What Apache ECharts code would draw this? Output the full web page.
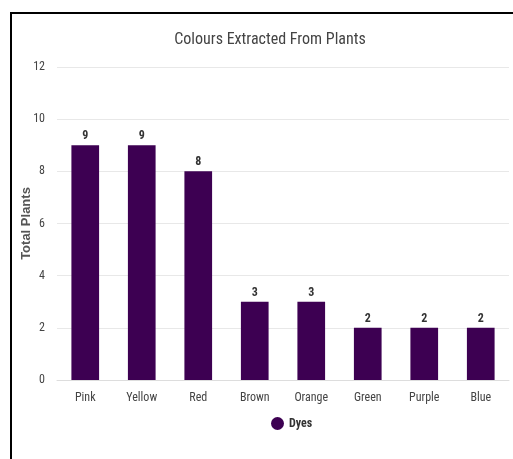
<!DOCTYPE html>
<html>
<head>
<meta charset="utf-8">
<script src="https://cdn.jsdelivr.net/npm/echarts@6/dist/echarts.min.js"></script>
<style>
  html, body { margin: 0; padding: 0; background: #fff; }
  #view { width: 513px; height: 459px; }
</style>
</head>
<body>
<div id="view"></div>
<script>
let categories = ["Pink", "Yellow", "Red", "Brown", "Orange", "Green", "Purple", "Blue"];
let dyeValues = [9, 9, 8, 3, 3, 2, 2, 2];
let seriesName = "Dyes";

let narrow = "'Roboto Condensed', 'Roboto', sans-serif";

let myChart = echarts.init(document.getElementById("view"));
let option = {
  backgroundColor: "#fff",
  animation: false,
  title: {
    text: "Colours Extracted From Plants",
    left: 265,
    textAlign: "center",
    top: 27,
    textStyle: { fontFamily: narrow, fontSize: 16, fontWeight: "normal", color: "#444" },
  },
  legend: {
    data: [seriesName],
    left: 266,
    bottom: 24,
    textAlign: "center",
    icon: "circle",
    itemWidth: 13,
    itemHeight: 13,
    itemGap: 6,
    textStyle: { fontFamily: narrow, fontSize: 12, fontWeight: "bold", color: "#333" },
  },
  grid: { left: 57, right: 4, top: 67, bottom: 79 },
  graphic: [
    { type: "line", shape: { x1: 10, y1: 13, x2: 513, y2: 13 }, style: { stroke: "#000", lineWidth: 2 } },
    { type: "line", shape: { x1: 11, y1: 13, x2: 11, y2: 459 }, style: { stroke: "#000", lineWidth: 2 } },
  ],
  xAxis: {
    type: "category",
    data: categories,
    axisLine: { lineStyle: { color: "#ddd" } },
    axisTick: { show: false },
    axisLabel: { fontFamily: narrow, fontSize: 12, color: "#444", margin: 12 },
  },
  yAxis: {
    type: "value",
    min: 0,
    max: 12,
    interval: 2,
    name: "Total Plants",
    nameLocation: "middle",
    nameGap: 24,
    nameMoveOverlap: false,
    nameTextStyle: { fontFamily: "'Liberation Sans', Arial, sans-serif", fontSize: 13, fontWeight: "bold", color: "#555" },
    axisLine: { show: false },
    axisTick: { show: false },
    axisLabel: { fontFamily: narrow, fontSize: 12, color: "#444", margin: 12 },
    splitLine: { lineStyle: { color: "#e8e8e8" } },
  },
  series: [
    {
      name: seriesName,
      type: "bar",
      data: dyeValues,
      barWidth: "49%",
      itemStyle: { color: "#3d0052" },
      label: {
        show: true,
        position: "top",
        distance: 3,
        fontFamily: narrow,
        fontSize: 12,
        fontWeight: "bold",
        color: "#333",
      },
    },
  ],
};
myChart.setOption(option);
</script>
</body>
</html>
